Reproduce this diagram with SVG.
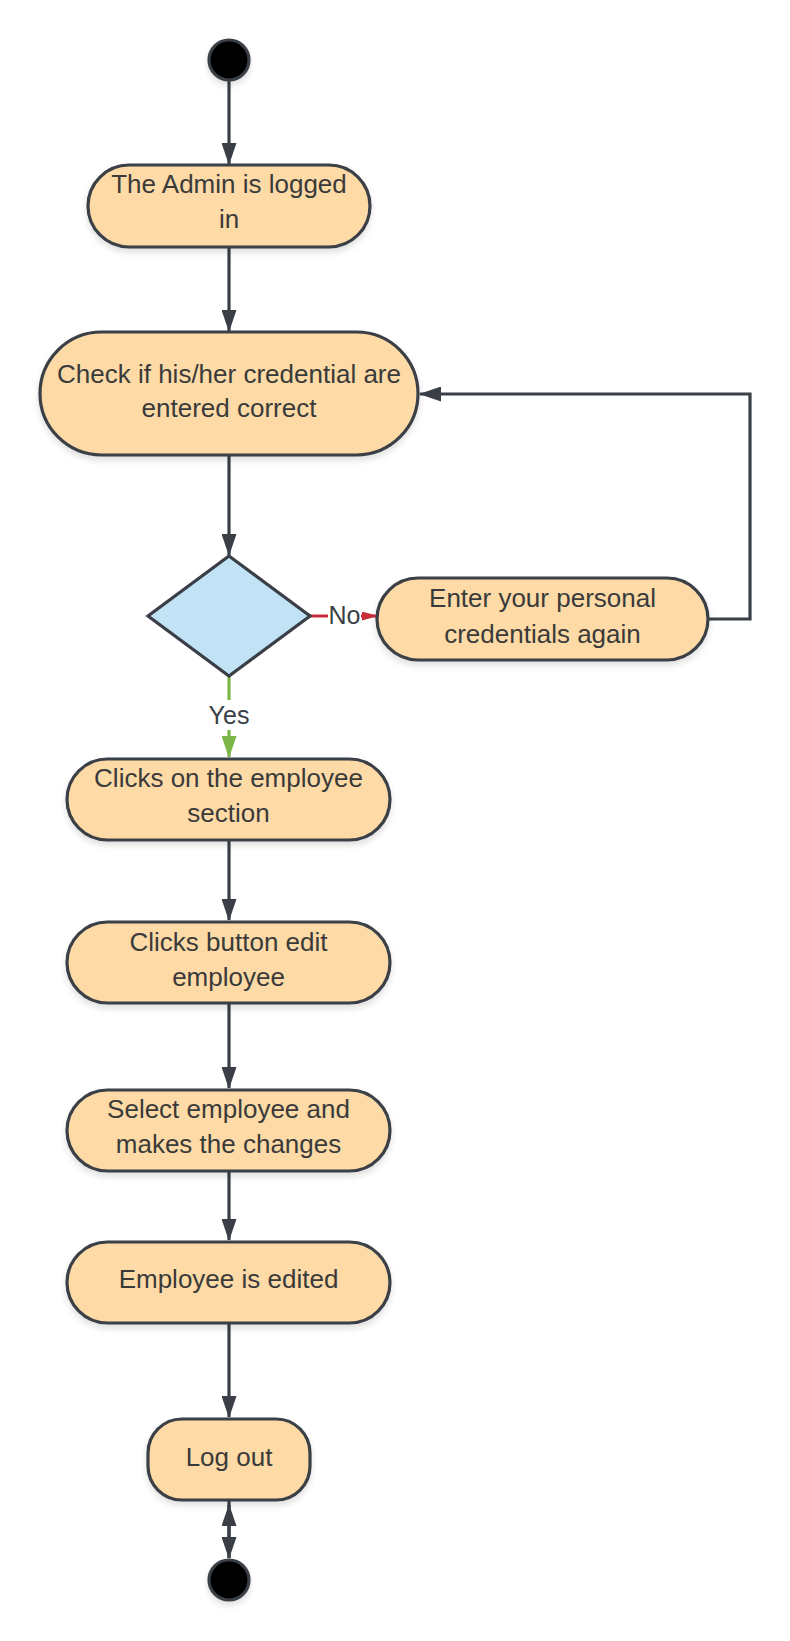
<svg xmlns="http://www.w3.org/2000/svg" width="790" height="1641" viewBox="0 0 790 1641">
<style>
.node{fill:#FDDAA6;stroke:#3a3f47;stroke-width:3.2}
.dec{fill:#C2E3F6;stroke:#3a3f47;stroke-width:3.2}
.dot{fill:#000;stroke:#3a3f47;stroke-width:3.2}
.t{font-family:"Liberation Sans",Arial,sans-serif;font-size:26px;fill:#3a3a3a;text-anchor:middle}
.lbl{font-family:"Liberation Sans",Arial,sans-serif;font-size:25px;fill:#3a3f47;text-anchor:middle}
.c{fill:none;stroke:#3a3f47;stroke-width:3.2}
.cr{fill:none;stroke:#C92D39;stroke-width:3.2}
.cg{fill:none;stroke:#7AB648;stroke-width:3.2}
</style>
<defs>
<marker id="ah" markerUnits="userSpaceOnUse" viewBox="0 0 22 15" refX="21" refY="7.5" markerWidth="22" markerHeight="15" orient="auto"><path d="M0,0 L22,7.5 L0,15 z" fill="#3a3f47"/></marker>
<marker id="ahr" markerUnits="userSpaceOnUse" viewBox="0 0 16 9" refX="15" refY="4.5" markerWidth="16" markerHeight="9" orient="auto"><path d="M0,0 L16,4.5 L0,9 z" fill="#C92D39"/></marker>
<marker id="ahg" markerUnits="userSpaceOnUse" viewBox="0 0 22 15" refX="21" refY="7.5" markerWidth="22" markerHeight="15" orient="auto"><path d="M0,0 L22,7.5 L0,15 z" fill="#7AB648"/></marker>
<filter id="sh" x="-10%" y="-10%" width="120%" height="140%"><feDropShadow dx="0" dy="4" stdDeviation="3" flood-color="#000" flood-opacity="0.12"/></filter>
</defs>
<rect width="790" height="1641" fill="#fff"/>

<g id="connectors">
<path class="c" d="M229,81 L229,164" marker-end="url(#ah)"/>
<path class="c" d="M229,247 L229,331" marker-end="url(#ah)"/>
<path class="c" d="M229,455 L229,555" marker-end="url(#ah)"/>
<path class="cr" d="M310,616 L377,616" marker-end="url(#ahr)"/>
<rect x="328" y="601" width="33" height="28" fill="#fff"/>
<text class="lbl" x="344.5" y="624">No</text>
<path class="cg" d="M229,676 L229,757" marker-end="url(#ahg)"/>
<rect x="205" y="700" width="48" height="30" fill="#fff"/>
<text class="lbl" x="229" y="724">Yes</text>
<path class="c" d="M708,619 L750,619 L750,394 L420,394" marker-end="url(#ah)"/>
<path class="c" d="M229,840 L229,920" marker-end="url(#ah)"/>
<path class="c" d="M229,1003 L229,1088" marker-end="url(#ah)"/>
<path class="c" d="M229,1171 L229,1240" marker-end="url(#ah)"/>
<path class="c" d="M229,1323 L229,1417" marker-end="url(#ah)"/>
<path class="c" d="M229,1500 L229,1558" marker-end="url(#ah)"/>
<path class="c" d="M229,1558 L229,1505" marker-end="url(#ah)"/>
</g>

<g id="start"><circle class="dot" cx="229" cy="60" r="20" filter="url(#sh)"/></g>

<g id="n1">
<rect class="node" x="88" y="165" width="282" height="82" rx="41" filter="url(#sh)"/>
<text class="t" x="229" y="193">The Admin is logged</text>
<text class="t" x="229" y="228">in</text>
</g>

<g id="n2">
<rect class="node" x="40" y="332" width="378" height="123" rx="61.5" filter="url(#sh)"/>
<text class="t" x="229" y="383">Check if his/her credential are</text>
<text class="t" x="229" y="417">entered correct</text>
</g>

<g id="decision">
<polygon class="dec" points="229,556 310,616 229,676 148,616"/>
</g>

<g id="n_again">
<rect class="node" x="377" y="578" width="331" height="82" rx="41" filter="url(#sh)"/>
<text class="t" x="542.5" y="607">Enter your personal</text>
<text class="t" x="542.5" y="643">credentials again</text>
</g>

<g id="n3">
<rect class="node" x="67" y="759" width="323" height="81" rx="40.5" filter="url(#sh)"/>
<text class="t" x="228.5" y="787">Clicks on the employee</text>
<text class="t" x="228.5" y="822">section</text>
</g>

<g id="n4">
<rect class="node" x="67" y="922" width="323" height="81" rx="40.5" filter="url(#sh)"/>
<text class="t" x="228.5" y="951">Clicks button edit</text>
<text class="t" x="228.5" y="986">employee</text>
</g>

<g id="n5">
<rect class="node" x="67" y="1090" width="323" height="81" rx="40.5" filter="url(#sh)"/>
<text class="t" x="228.5" y="1118">Select employee and</text>
<text class="t" x="228.5" y="1153">makes the changes</text>
</g>

<g id="n6">
<rect class="node" x="67" y="1242" width="323" height="81" rx="40.5" filter="url(#sh)"/>
<text class="t" x="228.5" y="1288">Employee is edited</text>
</g>

<g id="n7">
<rect class="node" x="148" y="1419" width="162" height="81" rx="34" filter="url(#sh)"/>
<text class="t" x="229" y="1466">Log out</text>
</g>

<g id="end"><circle class="dot" cx="229" cy="1580" r="20" filter="url(#sh)"/></g>
</svg>
